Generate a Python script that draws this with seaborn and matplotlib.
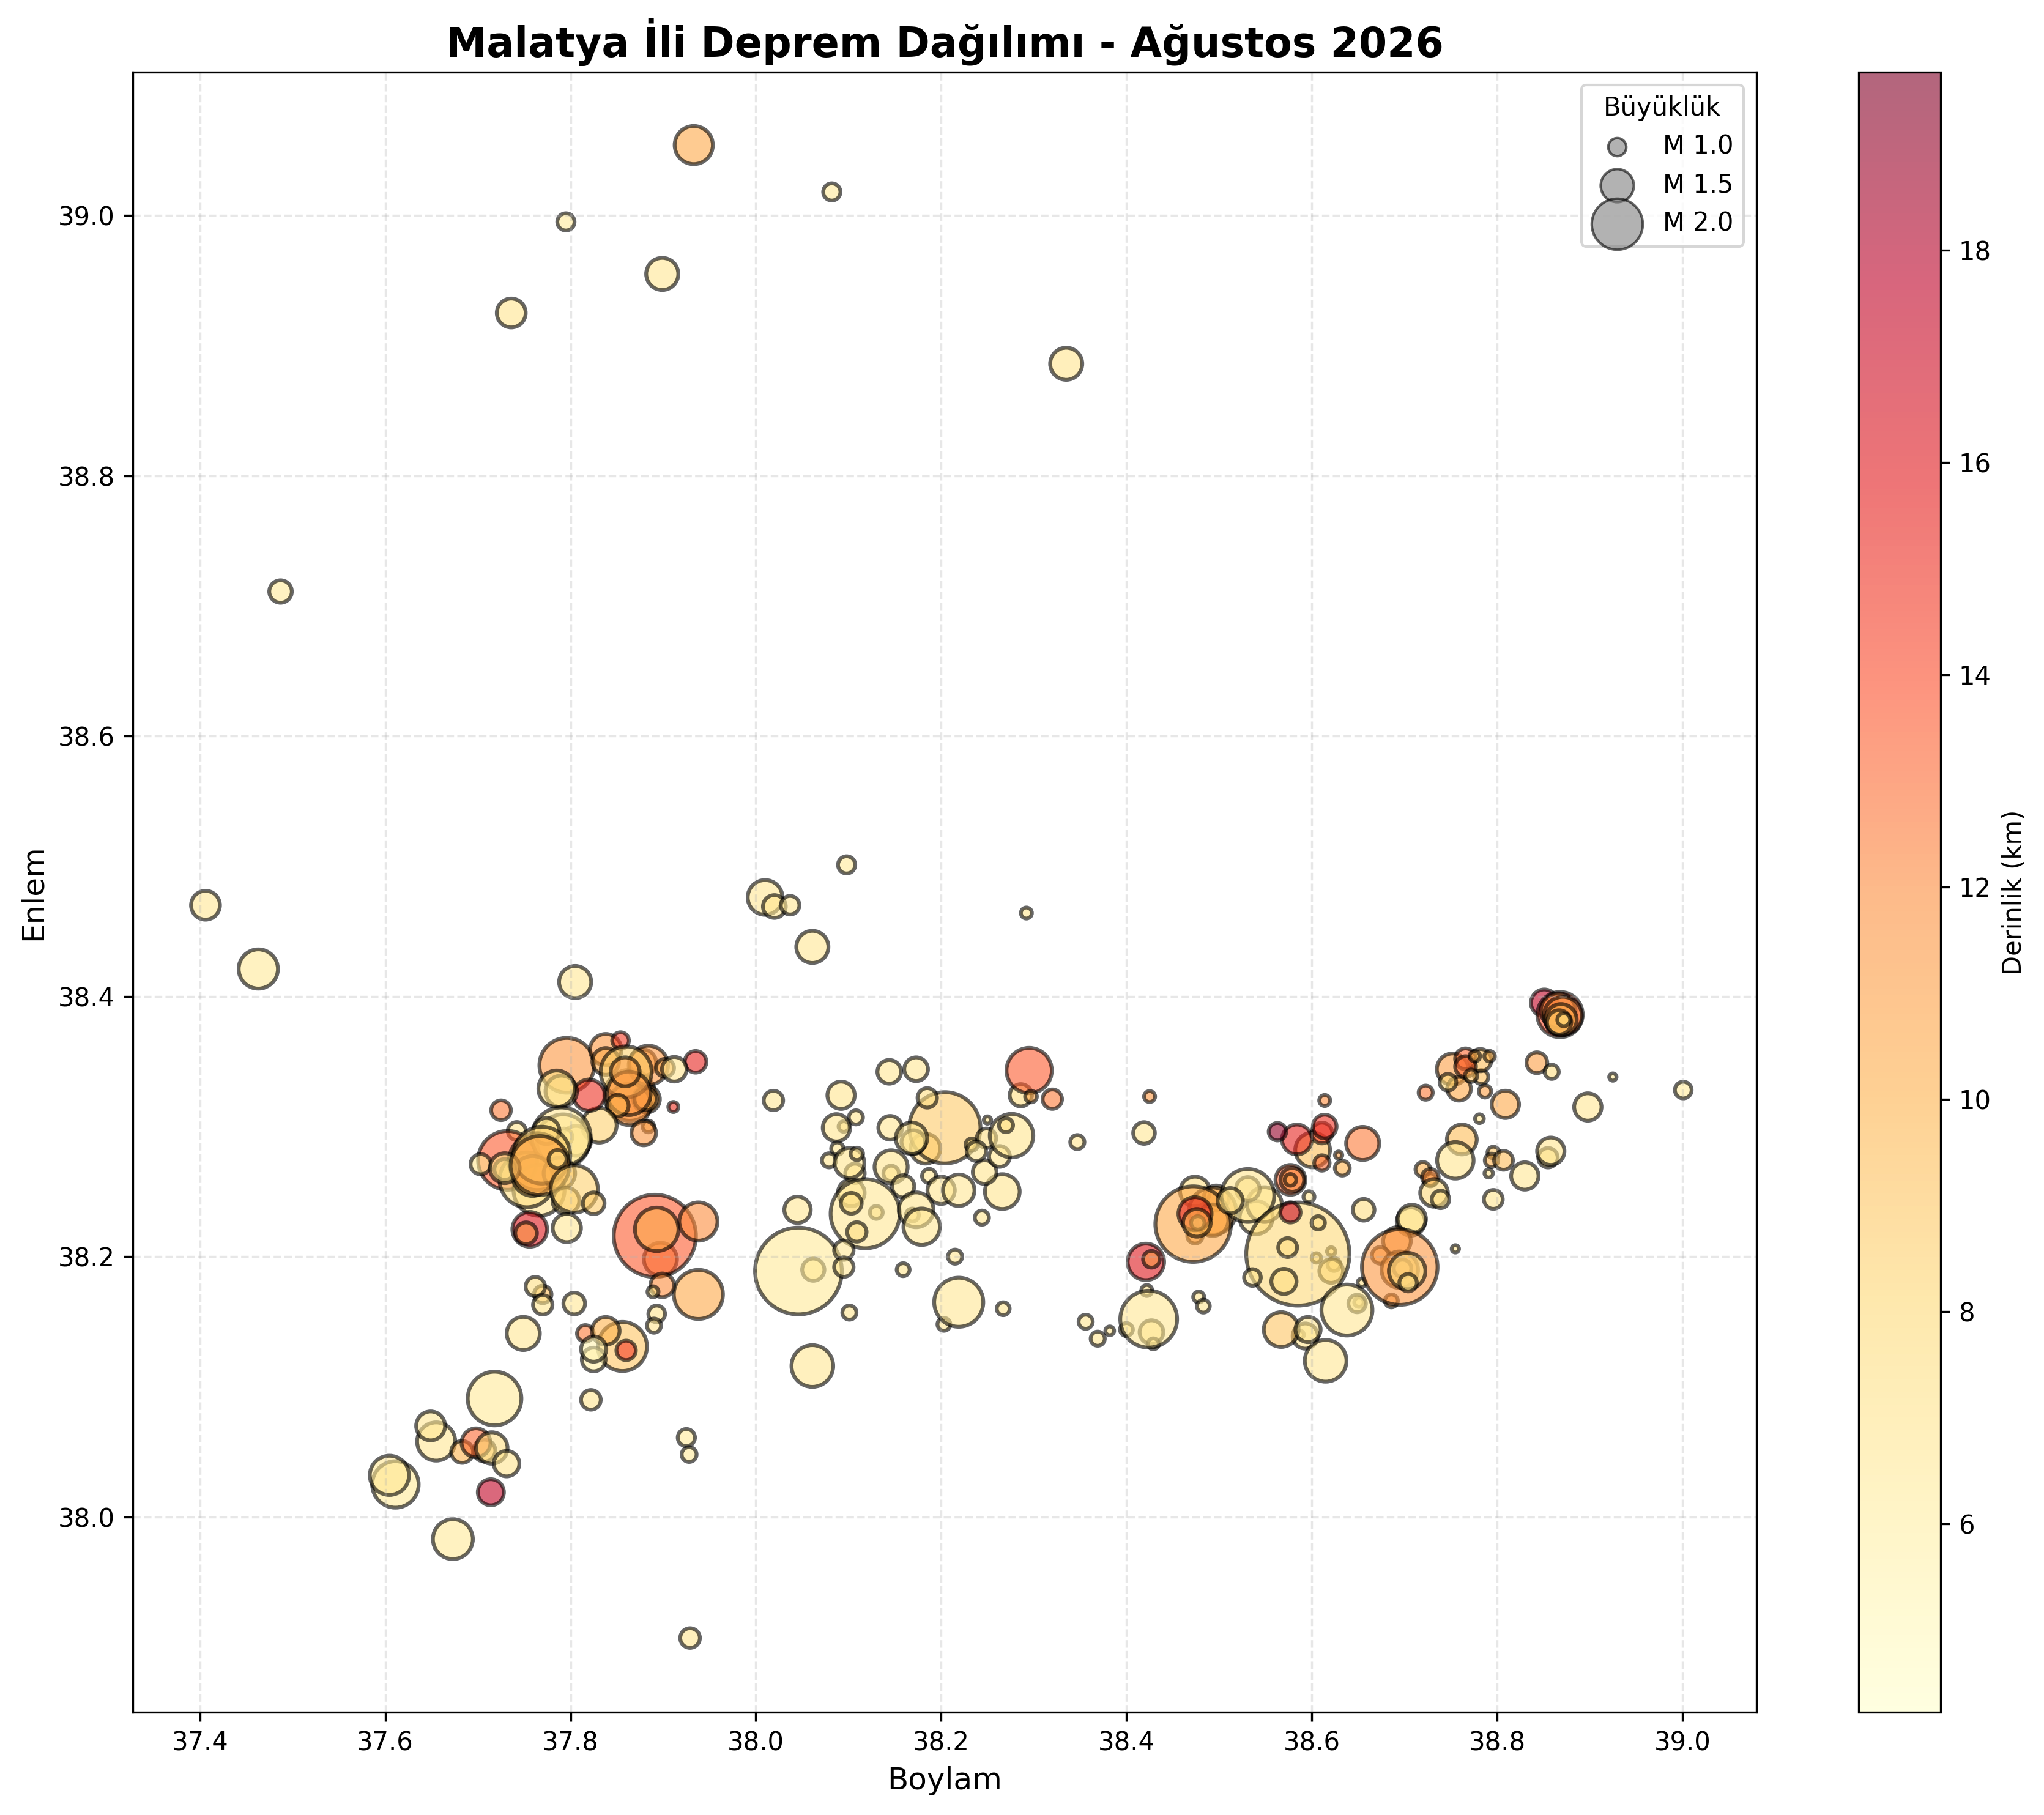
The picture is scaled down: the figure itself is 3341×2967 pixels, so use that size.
import numpy as np
import pandas as pd
import matplotlib
matplotlib.use("Agg")
import matplotlib.pyplot as plt
import seaborn as sns

# values, same order in all four lists
lon = [
    37.933, 38.082, 37.795, 37.899, 37.736, 38.335, 37.487, 37.406, 37.463, 37.805,
    38.010, 38.020, 38.037, 38.098, 38.061, 38.292, 37.929, 37.925, 37.928, 37.673,
    37.611, 37.6045, 37.655, 37.649, 37.707, 37.683, 37.698, 37.715, 37.731, 37.718, 37.822, 37.714,
    37.935, 37.911, 38.019,
    37.796, 37.838, 37.838, 37.864, 37.882, 37.864, 37.881, 37.878, 37.884,
    37.854, 37.902, 37.912, 37.860, 37.863, 37.859, 37.851, 37.831, 37.820,
    37.790, 37.785, 37.725, 37.884, 37.879, 37.742, 37.732, 37.806, 37.793,
    37.792, 37.790, 37.774, 37.766, 37.753, 37.764, 37.759, 37.788, 37.769,
    37.729, 37.703, 37.729, 37.767, 37.786, 37.795, 37.804, 37.825,
    37.756, 37.752, 37.796, 37.897, 37.891, 37.893, 37.938, 37.938, 37.899,
    37.889, 37.893, 37.890, 37.770, 37.762, 37.770, 37.804, 37.749, 37.816, 37.856,
    37.860, 37.838, 37.825, 37.825, 38.144, 38.173, 38.092, 38.108, 38.095, 38.087,
    38.088, 38.079, 38.107, 38.101, 38.109, 38.145, 38.183, 38.204, 38.185, 38.170,
    38.168, 38.146, 38.146, 38.159, 38.187, 38.200, 38.219, 38.266, 38.247, 38.233,
    38.249, 38.263, 38.238, 38.250, 38.276, 38.270, 38.347, 38.286, 38.295, 38.297,
    38.320, 38.103, 38.130, 38.118, 38.103, 38.109, 38.169, 38.173, 38.179, 38.045,
    38.062, 38.046, 38.095, 38.095, 38.101, 38.159, 38.215, 38.244, 38.203, 38.219,
    38.267, 38.061, 38.356, 38.369, 38.425, 38.419, 38.421, 38.427, 38.400, 38.427,
    38.422, 38.429, 38.424, 38.382, 38.478, 38.483, 38.474, 38.497, 38.493, 38.493,
    38.474, 38.472, 38.474, 38.477, 38.476, 38.540, 38.549, 38.531, 38.531, 38.512,
    38.577, 38.579, 38.577, 38.597, 38.605, 38.621, 38.624, 38.621, 38.585, 38.577,
    38.607, 38.574, 38.570, 38.536, 38.656, 38.601, 38.584, 38.563, 38.611, 38.614,
    38.614, 38.611, 38.629, 38.633, 38.655, 38.651, 38.649, 38.654, 38.638, 38.587,
    38.593, 38.567, 38.596, 38.615, 38.707, 38.708, 38.686, 38.692, 38.674, 38.695,
    38.698, 38.695, 38.703, 38.704, 38.755, 38.762, 38.755, 38.720, 38.728, 38.728,
    38.732, 38.739, 38.796, 38.791, 38.796, 38.794, 38.807, 39.001, 38.925, 38.898,
    38.843, 38.859, 38.809, 38.781, 38.723, 38.752, 38.759, 38.747, 38.783, 38.787,
    38.782, 38.766, 38.766, 38.776, 38.792, 38.772, 38.851, 38.868, 38.866, 38.871,
    38.869, 38.867, 38.872, 38.830, 38.855, 38.858,
]
lat = [
    39.054, 39.018, 38.995, 38.955, 38.925, 38.886, 38.711, 38.470, 38.421, 38.411,
    38.476, 38.469, 38.470, 38.501, 38.438, 38.464, 37.907, 38.061, 38.048, 37.983,
    38.025, 38.032, 38.058, 38.070, 38.051, 38.050, 38.057, 38.053, 38.041, 38.091, 38.090, 38.019,
    38.3497, 38.315, 38.320,
    38.347, 38.359, 38.350, 38.324, 38.321, 38.317, 38.321, 38.349, 38.347,
    38.366, 38.345, 38.344, 38.342, 38.3255, 38.342, 38.316, 38.301, 38.324,
    38.327, 38.329, 38.3125, 38.300, 38.295, 38.2965, 38.274, 38.289, 38.292,
    38.289, 38.292, 38.2965, 38.251, 38.259, 38.273, 38.262, 38.264, 38.278,
    38.267, 38.271, 38.268, 38.270, 38.275, 38.243, 38.252, 38.241,
    38.221, 38.218, 38.222, 38.198, 38.216, 38.221, 38.227, 38.171, 38.178,
    38.173, 38.156, 38.147, 38.171, 38.177, 38.163, 38.164, 38.141, 38.141, 38.131,
    38.128, 38.143, 38.121, 38.129, 38.342, 38.344, 38.324, 38.307, 38.300, 38.299,
    38.283, 38.274, 38.264, 38.272, 38.279, 38.299, 38.283, 38.299, 38.322, 38.288,
    38.291, 38.264, 38.269, 38.254, 38.262, 38.251, 38.251, 38.250, 38.265, 38.286,
    38.291, 38.277, 38.281, 38.305, 38.293, 38.301, 38.288, 38.324, 38.343, 38.323,
    38.321, 38.249, 38.234, 38.233, 38.241, 38.219, 38.232, 38.236, 38.223, 38.236,
    38.190, 38.189, 38.205, 38.192, 38.157, 38.190, 38.200, 38.230, 38.148, 38.165,
    38.160, 38.116, 38.150, 38.137, 38.323, 38.295, 38.196, 38.198, 38.144, 38.142,
    38.174, 38.133, 38.152, 38.143, 38.169, 38.162, 38.250, 38.245, 38.235, 38.228,
    38.216, 38.225, 38.233, 38.226, 38.226, 38.230, 38.240, 38.252, 38.247, 38.243,
    38.259, 38.259, 38.259, 38.246, 38.199, 38.204, 38.194, 38.189, 38.202, 38.234,
    38.226, 38.207, 38.181, 38.184, 38.236, 38.282, 38.290, 38.296, 38.295, 38.300,
    38.320, 38.272, 38.278, 38.268, 38.287, 38.165, 38.164, 38.180, 38.159, 38.140,
    38.139, 38.144, 38.144, 38.120, 38.227, 38.229, 38.166, 38.212, 38.201, 38.190,
    38.191, 38.192, 38.189, 38.180, 38.206, 38.290, 38.274, 38.267, 38.259, 38.261,
    38.249, 38.244, 38.244, 38.264, 38.280, 38.274, 38.274, 38.328, 38.338, 38.315,
    38.349, 38.342, 38.317, 38.306, 38.326, 38.344, 38.329, 38.334, 38.338, 38.327,
    38.351, 38.352, 38.346, 38.354, 38.354, 38.339, 38.395, 38.386, 38.389, 38.385,
    38.382, 38.380, 38.382, 38.262, 38.276, 38.281,
]
magnitude = [
    1.65, 0.97, 0.97, 1.47, 1.37, 1.47, 1.16, 1.37, 1.68, 1.47,
    1.55, 1.17, 1.02, 0.97, 1.47, 0.72, 1.06, 0.97, 0.88, 1.70,
    1.88, 1.68, 1.65, 1.37, 1.14, 1.14, 1.37, 1.45, 1.26, 2.07, 1.06, 1.28,
    1.13, 0.68, 1.05,
    2.10, 1.45, 1.30, 2.00, 1.30, 1.75, 1.15, 1.30, 1.68,
    0.95, 1.00, 1.23, 2.00, 1.80, 1.37, 1.13, 1.55, 1.45,
    1.45, 1.60, 1.06, 0.75, 1.23, 1.00, 2.20, 1.40, 0.95,
    2.05, 2.20, 1.28, 2.00, 2.10, 2.15, 1.70, 1.45, 2.15,
    1.10, 1.08, 1.40, 2.20, 1.00, 1.30, 1.90, 1.13,
    1.55, 1.13, 1.35, 1.50, 2.75, 1.80, 1.65, 1.95, 1.20,
    0.72, 0.95, 0.85, 0.98, 1.05, 1.05, 1.13, 1.50, 0.95, 1.95,
    1.05, 1.33, 1.20, 1.25, 1.20, 1.20, 1.32, 0.85, 0.70, 1.32,
    0.78, 0.85, 1.05, 1.40, 0.78, 1.20, 1.40, 2.50, 1.05, 1.20,
    1.45, 0.90, 1.50, 1.15, 0.85, 1.32, 1.45, 1.55, 1.20, 0.78,
    1.05, 1.10, 1.05, 0.55, 1.80, 0.85, 0.85, 1.15, 1.85, 0.75,
    1.05, 1.30, 0.80, 2.45, 1.10, 1.05, 0.80, 1.55, 1.60, 1.29,
    1.15, 2.85, 1.05, 1.05, 0.85, 0.80, 0.85, 0.85, 0.80, 1.95,
    0.80, 1.75, 0.85, 0.85, 0.72, 1.13, 1.60, 0.95, 0.80, 1.20,
    0.72, 0.72, 2.15, 0.62, 0.72, 0.80, 1.40, 1.25, 1.90, 1.45,
    0.90, 2.60, 1.50, 0.82, 1.33, 1.50, 1.55, 1.20, 2.05, 1.25,
    1.40, 1.20, 0.75, 0.72, 0.65, 0.60, 0.80, 1.20, 3.20, 1.08,
    0.82, 1.03, 1.25, 0.95, 1.13, 1.55, 1.40, 0.98, 1.10, 1.20,
    0.72, 0.90, 0.55, 0.88, 1.50, 0.65, 0.98, 0.60, 2.00, 0.60,
    1.25, 1.55, 1.25, 1.75, 1.35, 1.35, 0.80, 1.33, 0.95, 1.60,
    0.98, 2.60, 1.60, 0.98, 0.55, 1.40, 1.60, 0.88, 0.80, 0.95,
    1.33, 0.98, 1.03, 0.60, 0.75, 0.82, 1.03, 0.95, 0.55, 1.32,
    1.10, 0.85, 1.32, 0.62, 0.85, 1.45, 1.20, 0.95, 0.85, 0.78,
    1.15, 1.10, 1.10, 0.70, 0.70, 0.78, 1.30, 1.85, 1.55, 1.65,
    1.45, 1.22, 0.80, 1.32, 1.05, 1.32,
]
depth = [
    10.5, 6.5, 6.5, 6.8, 7.0, 7.0, 6.5, 6.8, 6.5, 6.8,
    6.8, 7.0, 6.8, 6.5, 6.8, 7.0, 7.0, 6.5, 6.5, 6.5,
    6.5, 6.8, 6.8, 6.8, 9.0, 10.0, 13.0, 7.5, 7.0, 6.5, 7.0, 17.5,
    15.5, 15.0, 6.8,
    11.5, 11.5, 10.5, 11.5, 10.5, 11.5, 10.5, 10.5, 11.5,
    14.5, 10.5, 7.0, 8.5, 11.5, 11.0, 10.0, 8.5, 15.0,
    7.5, 7.5, 12.5, 10.5, 11.5, 7.0, 13.5, 7.0, 7.0,
    7.0, 6.8, 7.5, 7.0, 7.5, 10.5, 10.0, 9.0, 8.5,
    7.5, 7.0, 7.5, 10.5, 7.5, 8.0, 8.5, 8.8,
    16.0, 11.5, 6.8, 12.0, 13.5, 10.5, 12.0, 10.5, 12.0,
    7.5, 7.0, 7.0, 9.5, 7.5, 7.0, 6.8, 6.8, 12.5, 9.0,
    14.5, 10.0, 6.0, 5.5, 6.8, 6.8, 7.0, 7.0, 7.0, 7.0,
    7.0, 7.0, 7.0, 7.0, 7.0, 6.8, 8.5, 8.8, 7.5, 7.5,
    7.0, 7.0, 7.0, 6.8, 7.0, 7.0, 6.8, 7.0, 7.0, 8.0,
    7.5, 7.0, 7.0, 7.0, 7.0, 7.5, 7.0, 7.5, 13.5, 10.5,
    12.5, 7.0, 7.5, 6.8, 7.5, 7.5, 7.0, 7.0, 6.8, 6.8,
    7.0, 6.5, 6.8, 6.8, 7.0, 7.0, 7.0, 7.0, 6.8, 6.8,
    7.0, 6.8, 7.0, 7.0, 11.5, 6.8, 16.0, 11.5, 7.0, 6.8,
    7.0, 7.0, 6.8, 7.0, 7.0, 7.0, 7.5, 9.5, 10.5, 10.5,
    11.0, 10.5, 15.5, 7.0, 10.0, 7.0, 7.0, 7.5, 7.0, 7.5,
    13.0, 12.0, 11.0, 7.0, 7.5, 8.0, 8.0, 8.0, 8.0, 17.0,
    7.5, 7.5, 7.5, 7.0, 7.5, 9.5, 15.5, 19.0, 14.5, 15.0,
    12.0, 13.0, 11.0, 10.0, 12.5, 7.5, 7.5, 7.5, 6.8, 7.5,
    7.0, 9.0, 7.0, 6.8, 7.5, 7.0, 11.0, 11.0, 11.0, 10.5,
    7.5, 11.5, 7.5, 7.5, 7.0, 9.5, 7.0, 10.0, 10.0, 12.0,
    8.0, 7.5, 7.0, 7.0, 9.0, 10.0, 9.5, 6.5, 6.5, 6.8,
    11.0, 7.5, 10.5, 7.0, 12.5, 11.0, 10.5, 8.0, 9.5, 11.0,
    9.5, 13.0, 13.0, 10.0, 10.0, 9.5, 17.5, 14.0, 11.5, 12.0,
    10.5, 9.0, 8.0, 6.8, 7.5, 7.0,
]
legend_magnitudes = [1.0, 1.5, 2.0]

df = pd.DataFrame({"lon": lon, "lat": lat, "mag": magnitude, "depth": depth})
df["size"] = 50 * df["mag"] ** 3

fig = plt.figure(figsize=(3341 / 300, 2967 / 300), dpi=300)
ax = fig.add_axes([217 / 3341, 1 - 2799 / 2967, (2871 - 217) / 3341, (2799 - 118) / 2967])
cax = fig.add_axes([3038 / 3341, 1 - 2799 / 2967, (3172 - 3038) / 3341, (2799 - 118) / 2967])

sns.scatterplot(data=df, x="lon", y="lat", s=df["size"], c=df["depth"], cmap="YlOrRd",
                vmin=4.225, vmax=19.675, alpha=0.6, edgecolor="black", linewidth=1.5, ax=ax)
points = ax.collections[0]

cbar = fig.colorbar(points, cax=cax)
cbar.set_label("Derinlik (km)", fontsize=10)

# size legend
for m in legend_magnitudes:
    ax.scatter([], [], s=50 * m ** 3, c="gray", alpha=0.6, edgecolors="black",
               linewidth=1, label=f"M {m:.1f}")
ax.legend(title="Büyüklük", loc="upper right")

ax.set_xlim(37.3275, 39.08)
ax.set_ylim(37.85, 39.11)
ax.set_xticks([37.4, 37.6, 37.8, 38.0, 38.2, 38.4, 38.6, 38.8, 39.0])
ax.set_xlabel("Boylam", fontsize=12)
ax.set_ylabel("Enlem", fontsize=12)
ax.set_title("Malatya İli Deprem Dağılımı - Ağustos 2026", fontsize=16, fontweight="bold")
ax.grid(True, alpha=0.3, linestyle="--")

fig.savefig("out.png", dpi=300)
